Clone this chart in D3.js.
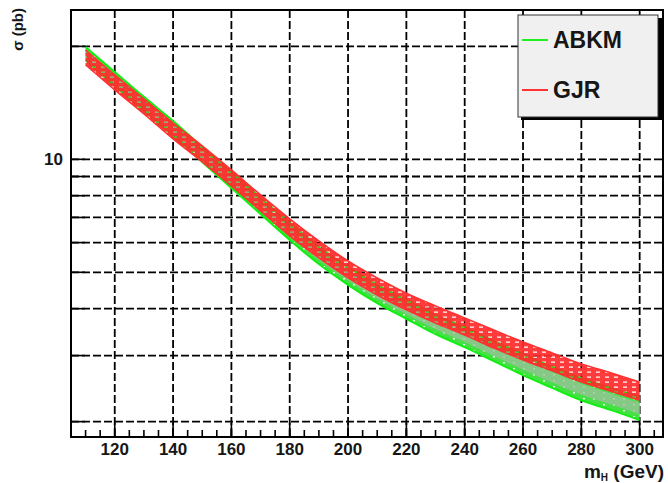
<!DOCTYPE html>
<html>
<head>
<meta charset="utf-8">
<script src="https://cdn.jsdelivr.net/npm/d3@7"></script>
<style>
  html, body { margin: 0; padding: 0; background: #fff; }
  svg { display: block; }
  text { font-family: "Liberation Sans", Arial, sans-serif; fill: #161616; }
</style>
</head>
<body>
<svg id="chart" width="668" height="483"></svg>
<script>
// Higgs mass points (GeV)
const mass = [110, 120, 130, 140, 150, 160, 170, 180, 190, 200, 210, 220, 230, 240, 250, 260, 270, 280, 290, 300];

// ABKM band: upper / lower cross section (pb)
const abkmHigh = [19.93, 17.10, 14.67, 12.66, 10.79, 9.25, 7.89, 6.77, 5.84, 5.17, 4.63, 4.22, 3.85, 3.57, 3.28, 3.03, 2.80, 2.61, 2.46, 2.33];
const abkmLow  = [18.40, 15.69, 13.46, 11.54, 9.84, 8.39, 7.15, 6.10, 5.26, 4.63, 4.14, 3.76, 3.42, 3.16, 2.90, 2.66, 2.46, 2.28, 2.15, 2.02];

// GJR band: upper / lower cross section (pb)
const gjrHigh = [19.56, 16.79, 14.49, 12.50, 10.86, 9.37, 8.04, 6.94, 6.06, 5.36, 4.83, 4.40, 4.07, 3.78, 3.51, 3.26, 3.05, 2.85, 2.70, 2.55];
const gjrLow  = [17.85, 15.31, 13.21, 11.33, 9.84, 8.49, 7.29, 6.25, 5.46, 4.83, 4.35, 3.97, 3.66, 3.40, 3.14, 2.92, 2.73, 2.55, 2.41, 2.28];

// Axis ticks
const xMajor = [120, 140, 160, 180, 200, 220, 240, 260, 280, 300];
const xMinor = d3.range(105, 310, 5);
const yGrid = [2, 3, 4, 5, 6, 7, 8, 9, 10, 20];
const yLabels = [10];

const legendItems = [
  { name: "ABKM", color: "#22ee22" },
  { name: "GJR", color: "#ff3333" }
];

const svg = d3.select("#chart");
const frame = { left: 71, right: 663, top: 10, bottom: 437 };

const x = d3.scaleLinear().domain([105, 308]).range([frame.left, frame.right]);
const y = d3.scaleLog().domain([1.82, 25]).range([frame.bottom, frame.top]);

// Fill patterns for the bands
const defs = svg.append("defs");
const redPat = defs.append("pattern")
  .attr("id", "gjrFill").attr("patternUnits", "userSpaceOnUse")
  .attr("width", 9).attr("height", 5);
redPat.append("path")
  .attr("d", "M0 0h9v5h-9z M2 1.5h4v1.3h-4z")
  .attr("fill", "#ff2a2a").attr("fill-rule", "evenodd").attr("opacity", 0.92);

const greenPat = defs.append("pattern")
  .attr("id", "abkmFill").attr("patternUnits", "userSpaceOnUse")
  .attr("width", 10).attr("height", 6);
greenPat.append("rect").attr("width", 10).attr("height", 6).attr("fill", "#44e044");
greenPat.append("rect").attr("x", 3).attr("y", 2).attr("width", 2).attr("height", 1.5).attr("fill", "#e8f8e8");

// Grid
const grid = svg.append("g");
grid.selectAll("line.vx").data(xMajor).join("line")
  .attr("x1", d => x(d)).attr("x2", d => x(d))
  .attr("y1", frame.top).attr("y2", frame.bottom)
  .attr("stroke", "#000").attr("stroke-width", 1.8).attr("stroke-dasharray", "8,3");
grid.selectAll("line.hy").data(yGrid).join("line")
  .attr("x1", frame.left).attr("x2", frame.right)
  .attr("y1", d => y(d)).attr("y2", d => y(d))
  .attr("stroke", "#000").attr("stroke-width", 1.8).attr("stroke-dasharray", "8,3");

// Bands
const rows = (hi, lo) => mass.map((m, i) => ({ m, hi: hi[i], lo: lo[i] }));
const band = d3.area().curve(d3.curveMonotoneX)
  .x(d => x(d.m)).y0(d => y(d.lo)).y1(d => y(d.hi));
const edge = key => d3.line().curve(d3.curveMonotoneX).x(d => x(d.m)).y(d => y(d[key]));

const abkm = rows(abkmHigh, abkmLow);
const gjr = rows(gjrHigh, gjrLow);

const gA = svg.append("g");
gA.append("path").datum(abkm).attr("d", band).attr("fill", "url(#abkmFill)");
// central lighter stripe of the ABKM band
const mid = abkm.map(d => ({ m: d.m, hi: Math.sqrt(d.hi * Math.sqrt(d.hi * d.lo)), lo: Math.sqrt(d.lo * Math.sqrt(d.hi * d.lo)) }));
gA.append("path").datum(mid).attr("d", band).attr("fill", "#9cc29c").attr("opacity", 0.75);
["hi", "lo"].forEach(k => gA.append("path").datum(abkm).attr("d", edge(k))
  .attr("fill", "none").attr("stroke", "#11ee11").attr("stroke-width", 2));

const gR = svg.append("g");
gR.append("path").datum(gjr).attr("d", band).attr("fill", "url(#gjrFill)");
["hi", "lo"].forEach(k => gR.append("path").datum(gjr).attr("d", edge(k))
  .attr("fill", "none").attr("stroke", "#ff3030").attr("stroke-width", 1.5));

// Axes ticks
const ticks = svg.append("g").attr("stroke", "#000").attr("stroke-width", 1.6);
ticks.selectAll("line.mx").data(xMinor).join("line")
  .attr("x1", d => x(d)).attr("x2", d => x(d))
  .attr("y1", frame.bottom).attr("y2", frame.bottom - 7);
ticks.selectAll("line.Mx").data(xMajor).join("line")
  .attr("x1", d => x(d)).attr("x2", d => x(d))
  .attr("y1", frame.bottom).attr("y2", frame.bottom - 14);
ticks.selectAll("line.My").data(yGrid).join("line")
  .attr("x1", frame.left).attr("x2", frame.left + 14)
  .attr("y1", d => y(d)).attr("y2", d => y(d));

// Frame
svg.append("rect")
  .attr("x", frame.left).attr("y", frame.top)
  .attr("width", frame.right - frame.left).attr("height", frame.bottom - frame.top)
  .attr("fill", "none").attr("stroke", "#000").attr("stroke-width", 2);

// Tick labels
svg.append("g").selectAll("text").data(xMajor).join("text")
  .attr("x", d => x(d)).attr("y", 455)
  .attr("text-anchor", "middle").attr("font-size", 17).attr("font-weight", "bold")
  .text(d => d);
svg.append("g").selectAll("text").data(yLabels).join("text")
  .attr("x", 63).attr("y", d => y(d) + 6)
  .attr("text-anchor", "end").attr("font-size", 17).attr("font-weight", "bold")
  .text(d => d);

// Axis titles
const xt = svg.append("text").attr("x", 664).attr("y", 478)
  .attr("text-anchor", "end").attr("font-size", 19).attr("font-weight", "bold");
xt.append("tspan").text("m");
xt.append("tspan").attr("font-size", 10).attr("dy", 3).text("H");
xt.append("tspan").attr("dy", -3).text(" (GeV)");

svg.append("text")
  .attr("transform", "translate(23,8) rotate(-90)")
  .attr("text-anchor", "end").attr("font-size", 15).attr("font-weight", "bold")
  .text("σ (pb)");

// Legend
const lg = svg.append("g");
lg.append("rect").attr("x", 521).attr("y", 18).attr("width", 141).attr("height", 102).attr("fill", "#000");
lg.append("rect").attr("x", 518).attr("y", 15).attr("width", 140).attr("height", 102)
  .attr("fill", "#f0f0f0").attr("stroke", "#333").attr("stroke-width", 1);
const li = lg.selectAll("g.item").data(legendItems).join("g")
  .attr("transform", (d, i) => `translate(0,${40 + i * 50})`);
li.append("line").attr("x1", 522).attr("x2", 548).attr("y1", 0).attr("y2", 0)
  .attr("stroke", d => d.color).attr("stroke-width", 2);
li.append("text").attr("x", 553).attr("y", 8)
  .attr("font-size", 23).attr("font-weight", "bold").text(d => d.name);
</script>
</body>
</html>
